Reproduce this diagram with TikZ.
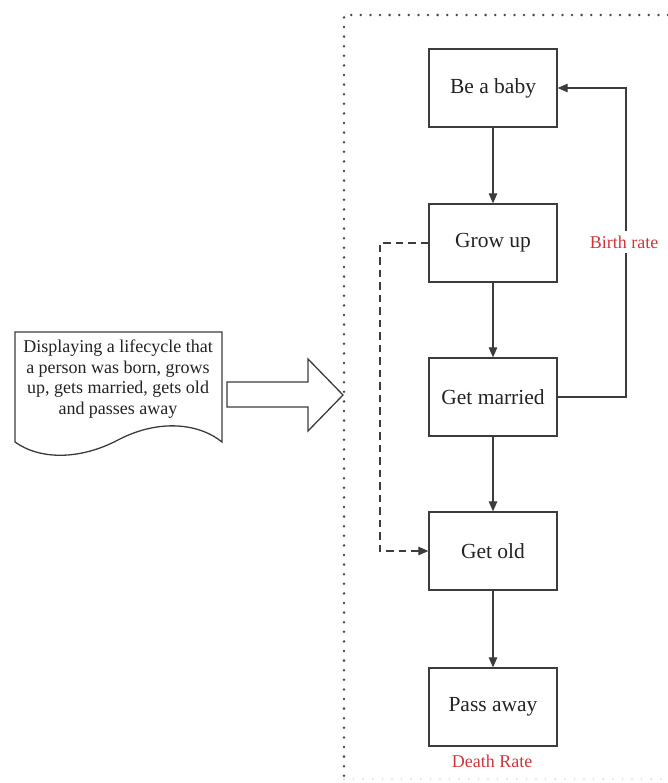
\documentclass[tikz,border=0pt]{standalone}
\usepackage{fontspec}
\setmainfont{Liberation Serif}
\usetikzlibrary{arrows.meta}
\definecolor{ln}{RGB}{60,60,60}
\definecolor{tx}{RGB}{35,35,35}
\definecolor{rd}{RGB}{205,55,60}
\begin{document}
\begin{tikzpicture}[x=1pt,y=-1pt,
  stepbox/.style={draw=ln,line width=1.3pt,minimum width=128pt,minimum height=78pt,inner sep=0pt,
    font=\fontsize{21.5}{24}\selectfont,text=tx},
  conn/.style={draw=ln,line width=1.2pt,-{Triangle[length=10pt,width=8.5pt]}},
  lbl/.style={font=\fontsize{18}{20}\selectfont,text=rd,inner sep=1pt}]
\useasboundingbox (0,0) rectangle (668,783);
% dotted frame
\draw[black!70,line width=2.8pt,line cap=round,dash pattern=on 0pt off 9.6pt] (668,15) -- (344,15) -- (344,790);
\draw[black!20,line width=1.6pt,line cap=round,dash pattern=on 0pt off 9.6pt] (344,779) -- (668,779);
% boxes
\node[stepbox] (bb) at (493,88) {Be a baby};
\node[stepbox] (gu) at (493,243) {Grow up};
\node[stepbox] (gm) at (493,397) {Get married};
\node[stepbox] (go) at (493,551) {Get old};
\node[stepbox] (pa) at (493,707) {Pass away};
\draw[conn] (bb) -- (gu);
\draw[conn] (gu) -- (gm);
\draw[conn] (gm) -- (go);
\draw[conn] (go) -- (pa);
% birth rate loop
\coordinate (br1) at (626,397);
\coordinate (br2) at (626,88);
\draw[conn] (gm.east) -- (br1) -- (br2) -- (bb.east);
\node[lbl,fill=white,inner ysep=5pt] (brl) at (624,242) {Birth rate};
\node[lbl] (drl) at (492,761) {Death Rate};
% dashed
\coordinate (dl) at (380,243);
\draw[conn,dash pattern=on 7.5pt off 5pt] (gu.west) -- (dl) |- (go.west);
% document shape
\draw[ln,line width=1.3pt,fill=white] (15,332) -- (222,332) -- (222,442)
  .. controls (200,424) and (160,418) .. (118,440)
  .. controls (80,460) and (40,460) .. (15,442) -- cycle;
\node[font=\fontsize{18}{20.7}\selectfont,text=tx,align=center,inner sep=0pt] (doc) at (118,379)
  {Displaying a lifecycle that\\a person was born, grows\\up, gets married, gets old\\and passes away};
% big arrow
\draw[ln,line width=1.3pt,fill=white] (227,382) -- (308,382) -- (308,359) -- (343,395) -- (308,431) -- (308,407) -- (227,407) -- cycle;
\end{tikzpicture}
\end{document}
